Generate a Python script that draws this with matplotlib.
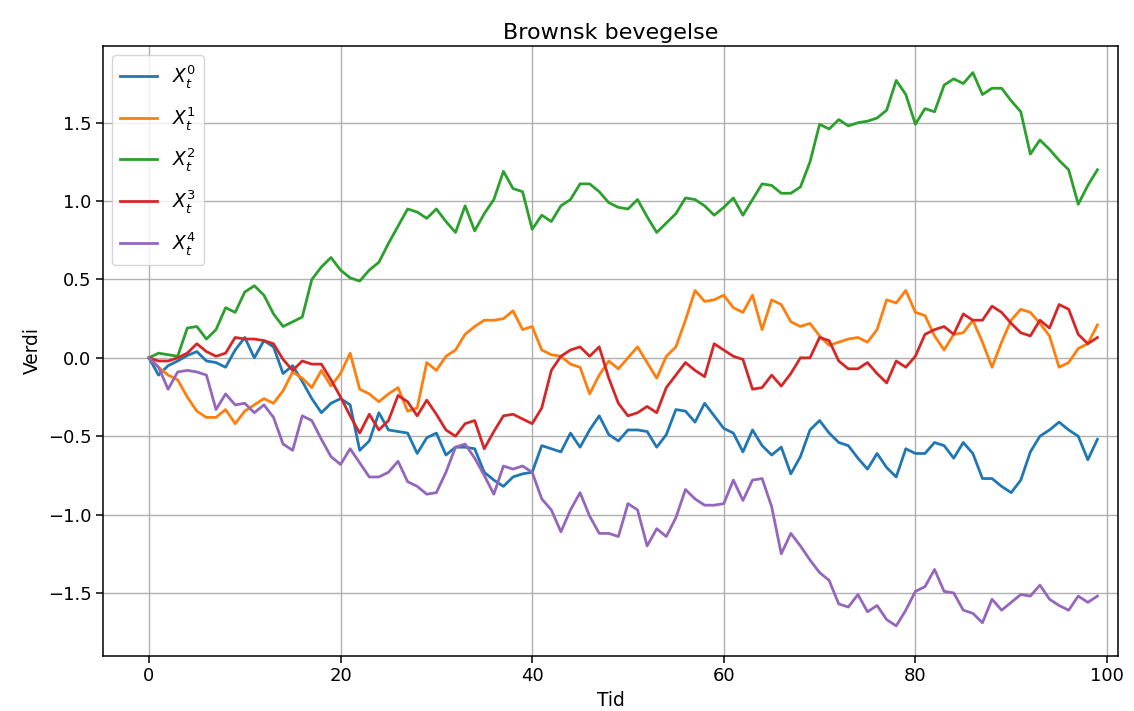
import numpy as np
import matplotlib
matplotlib.use("Agg")
import matplotlib.pyplot as plt

# ---- Values (t = 0..99) ----
t = np.arange(100)

x0 = [0.00, -0.11, -0.05, -0.02, 0.015, 0.04, -0.02, -0.03, -0.06, 0.05,
      0.13, 0.00, 0.11, 0.07, -0.10, -0.05, -0.15, -0.26, -0.35, -0.29,
      -0.26, -0.30, -0.59, -0.53, -0.35, -0.46, -0.47, -0.48, -0.61, -0.51,
      -0.48, -0.62, -0.57, -0.57, -0.58, -0.73, -0.78, -0.82, -0.76, -0.74,
      -0.73, -0.56, -0.58, -0.60, -0.48, -0.57, -0.46, -0.37, -0.49, -0.53,
      -0.46, -0.46, -0.47, -0.57, -0.49, -0.33, -0.34, -0.41, -0.29, -0.37,
      -0.45, -0.48, -0.60, -0.46, -0.56, -0.62, -0.57, -0.74, -0.63, -0.46,
      -0.40, -0.48, -0.54, -0.56, -0.64, -0.71, -0.61, -0.70, -0.76, -0.58,
      -0.61, -0.61, -0.54, -0.56, -0.64, -0.54, -0.61, -0.77, -0.77, -0.82,
      -0.86, -0.78, -0.60, -0.50, -0.46, -0.41, -0.46, -0.50, -0.65, -0.52]

x1 = [0.00, -0.06, -0.11, -0.14, -0.25, -0.34, -0.38, -0.38, -0.33, -0.42,
      -0.34, -0.30, -0.26, -0.29, -0.21, -0.09, -0.13, -0.19, -0.08, -0.18,
      -0.10, 0.03, -0.20, -0.23, -0.28, -0.23, -0.19, -0.34, -0.32, -0.03,
      -0.08, 0.01, 0.05, 0.15, 0.20, 0.24, 0.24, 0.25, 0.30, 0.18,
      0.20, 0.05, 0.02, 0.01, -0.04, -0.06, -0.23, -0.11, -0.02, -0.07,
      0.00, 0.07, -0.03, -0.13, 0.01, 0.07, 0.24, 0.43, 0.36, 0.37,
      0.40, 0.32, 0.29, 0.40, 0.18, 0.37, 0.34, 0.23, 0.20, 0.22,
      0.14, 0.08, 0.10, 0.12, 0.13, 0.10, 0.18, 0.37, 0.35, 0.43,
      0.29, 0.27, 0.14, 0.05, 0.15, 0.16, 0.24, 0.10, -0.06, 0.10,
      0.24, 0.31, 0.29, 0.22, 0.14, -0.06, -0.03, 0.06, 0.09, 0.21]

x2 = [0.00, 0.03, 0.02, 0.01, 0.19, 0.20, 0.12, 0.18, 0.32, 0.29,
      0.42, 0.46, 0.40, 0.28, 0.20, 0.23, 0.26, 0.50, 0.58, 0.64,
      0.56, 0.51, 0.49, 0.56, 0.61, 0.73, 0.84, 0.95, 0.93, 0.89,
      0.95, 0.87, 0.80, 0.97, 0.81, 0.92, 1.01, 1.19, 1.08, 1.06,
      0.82, 0.91, 0.87, 0.97, 1.01, 1.11, 1.11, 1.06, 0.99, 0.96,
      0.95, 1.01, 0.90, 0.80, 0.86, 0.92, 1.02, 1.01, 0.97, 0.91,
      0.96, 1.02, 0.91, 1.01, 1.11, 1.10, 1.05, 1.05, 1.09, 1.25,
      1.49, 1.46, 1.52, 1.48, 1.50, 1.51, 1.53, 1.58, 1.77, 1.68,
      1.49, 1.59, 1.57, 1.74, 1.78, 1.75, 1.82, 1.68, 1.72, 1.72,
      1.64, 1.57, 1.30, 1.39, 1.33, 1.26, 1.20, 0.98, 1.10, 1.20]

x3 = [0.00, -0.02, -0.02, 0.00, 0.03, 0.09, 0.04, 0.01, 0.03, 0.13,
      0.12, 0.12, 0.11, 0.09, -0.01, -0.08, -0.02, -0.04, -0.04, -0.14,
      -0.25, -0.37, -0.48, -0.36, -0.46, -0.40, -0.24, -0.28, -0.37, -0.27,
      -0.36, -0.46, -0.50, -0.42, -0.40, -0.58, -0.47, -0.37, -0.36, -0.39,
      -0.42, -0.32, -0.08, 0.01, 0.05, 0.07, 0.01, 0.07, -0.13, -0.29,
      -0.37, -0.35, -0.31, -0.35, -0.19, -0.11, -0.03, -0.08, -0.12, 0.09,
      0.05, 0.01, -0.01, -0.20, -0.19, -0.11, -0.18, -0.10, 0.00, 0.00,
      0.13, 0.11, -0.02, -0.07, -0.07, -0.03, -0.10, -0.16, -0.02, -0.06,
      0.01, 0.15, 0.18, 0.20, 0.15, 0.28, 0.24, 0.24, 0.33, 0.29,
      0.22, 0.16, 0.14, 0.24, 0.19, 0.34, 0.31, 0.15, 0.09, 0.13]

x4 = [0.00, -0.06, -0.20, -0.09, -0.08, -0.09, -0.11, -0.33, -0.23, -0.30,
      -0.29, -0.35, -0.30, -0.38, -0.55, -0.59, -0.37, -0.40, -0.52, -0.63,
      -0.68, -0.58, -0.67, -0.76, -0.76, -0.73, -0.66, -0.79, -0.82, -0.87,
      -0.86, -0.73, -0.57, -0.55, -0.64, -0.75, -0.87, -0.69, -0.71, -0.69,
      -0.73, -0.90, -0.97, -1.11, -0.97, -0.86, -1.01, -1.12, -1.12, -1.14,
      -0.93, -0.97, -1.20, -1.09, -1.14, -1.02, -0.84, -0.90, -0.94, -0.94,
      -0.93, -0.78, -0.91, -0.78, -0.77, -0.95, -1.25, -1.12, -1.20, -1.29,
      -1.37, -1.42, -1.57, -1.59, -1.51, -1.62, -1.58, -1.67, -1.71, -1.61,
      -1.49, -1.46, -1.35, -1.49, -1.50, -1.61, -1.63, -1.69, -1.54, -1.61,
      -1.56, -1.51, -1.52, -1.45, -1.54, -1.58, -1.61, -1.52, -1.56, -1.52]

series = [x0, x1, x2, x3, x4]
labels = [f"$X_t^{i}$" for i in range(len(series))]

# ---- Plot ----
fig = plt.figure(figsize=(11.34, 7.11), dpi=100)
ax = fig.add_axes([0.0908, 0.0774, 0.8951, 0.858])

for s, lab in zip(series, labels):
    ax.plot(t, s, lw=2.0, label=lab)

ax.set_xlim(-4.8, 101.15)
ax.set_ylim(-1.902, 1.99)
ax.grid(True, lw=1.0)
ax.tick_params(labelsize=13, length=4.7, width=1.1)
for sp in ax.spines.values():
    sp.set_linewidth(1.1)

ax.set_title("Brownsk bevegelse", fontsize=16, pad=5)
ax.set_xlabel("Tid", fontsize=13.4)
ax.set_ylabel("Verdi", fontsize=13.4)
ax.legend(loc="upper left", fontsize=13.4, labelspacing=0.8)

fig.savefig("out.png", dpi=100)
